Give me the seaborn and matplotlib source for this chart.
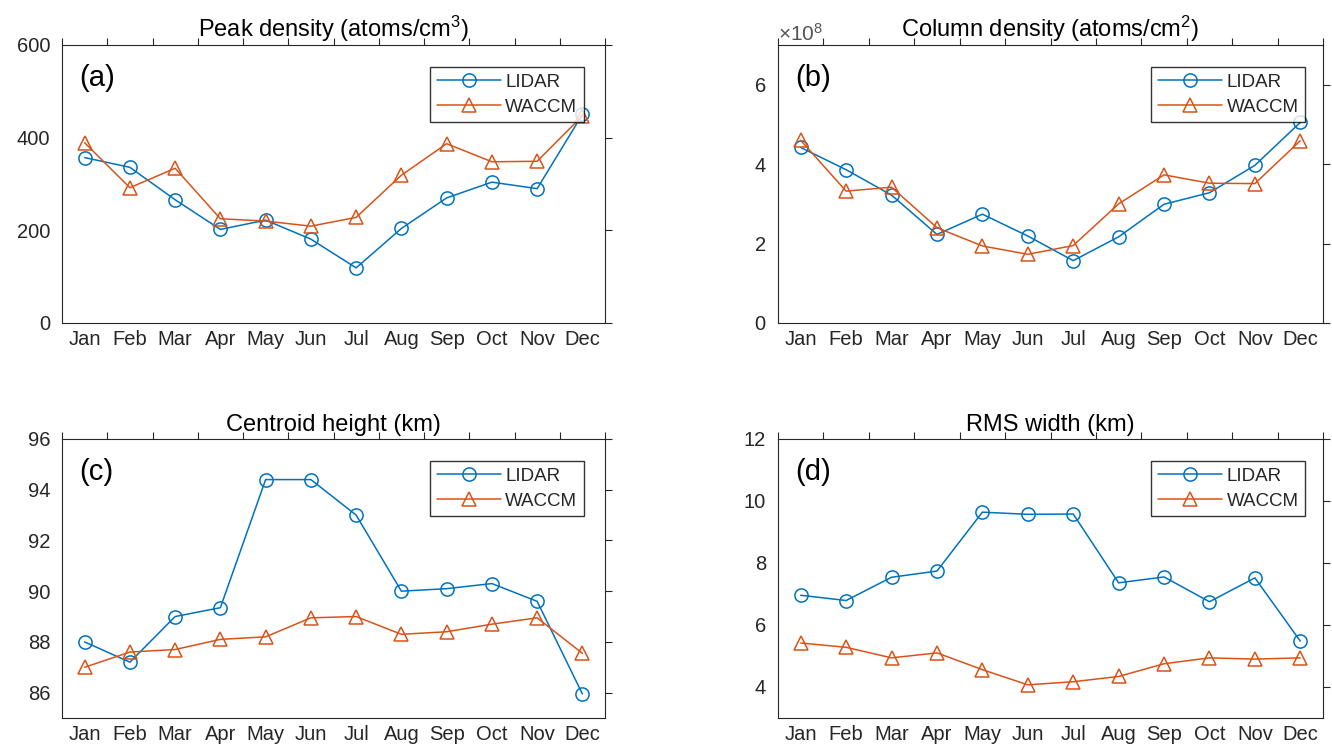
import numpy as np
import pandas as pd
import matplotlib
matplotlib.use("Agg")
import matplotlib.pyplot as plt
from matplotlib.ticker import ScalarFormatter, FixedLocator, NullFormatter, FixedFormatter
import seaborn as sns

months = ["Jan", "Feb", "Mar", "Apr", "May", "Jun", "Jul", "Aug", "Sep", "Oct", "Nov", "Dec"]

# Peak density (atoms/cm^3)
peak_lidar = [357, 336, 266, 202, 222, 181, 119, 204, 270, 304, 290, 450]
peak_waccm = [389, 292, 334, 225, 220, 209, 228, 319, 387, 348, 349, 447]

# Column density (atoms/cm^2)
col_lidar = [4.42e8, 3.86e8, 3.22e8, 2.23e8, 2.74e8, 2.19e8, 1.57e8, 2.17e8, 2.99e8, 3.28e8, 3.97e8, 5.05e8]
col_waccm = [4.60e8, 3.32e8, 3.42e8, 2.40e8, 1.94e8, 1.73e8, 1.95e8, 3.00e8, 3.73e8, 3.52e8, 3.51e8, 4.59e8]

# Centroid height (km)
cent_lidar = [88.0, 87.2, 89.0, 89.35, 94.4, 94.4, 93.0, 90.0, 90.1, 90.3, 89.6, 85.95]
cent_waccm = [87.0, 87.6, 87.7, 88.1, 88.2, 88.95, 89.0, 88.3, 88.4, 88.7, 88.95, 87.55]

# RMS width (km)
rms_lidar = [6.96, 6.79, 7.54, 7.74, 9.64, 9.57, 9.58, 7.36, 7.55, 6.75, 7.52, 5.48]
rms_waccm = [5.42, 5.28, 4.94, 5.10, 4.56, 4.07, 4.17, 4.34, 4.75, 4.94, 4.90, 4.94]

blue = "#0072BD"
orange = "#D95319"
ink = "#262626"

sns.set_style("white")
plt.rcParams["font.family"] = ["Liberation Sans", "DejaVu Sans"]
plt.rcParams["mathtext.fontset"] = "custom"
plt.rcParams["mathtext.rm"] = "Liberation Sans"
plt.rcParams["mathtext.it"] = "Liberation Sans:italic"

W, H = 1332, 746
fig = plt.figure(figsize=(W / 100, H / 100), dpi=100)

def frac(l, t, r, b):
    return [l / W, 1 - b / H, (r - l) / W, (b - t) / H]

panels = [
    dict(rect=frac(62, 45, 605, 323), title=r"Peak density (atoms/cm$^{3}$)", tag="(a)",
         lidar=peak_lidar, waccm=peak_waccm, ylim=(0, 600), yticks=[0, 200, 400, 600],
         sci=False, leg_x=0.961),
    dict(rect=frac(778, 45, 1323, 323), title=r"Column density (atoms/cm$^{2}$)", tag="(b)",
         lidar=col_lidar, waccm=col_waccm, ylim=(0, 7e8), yticks=[0, 2e8, 4e8, 6e8],
         sci=True, leg_x=0.967),
    dict(rect=frac(62, 439, 605, 718), title="Centroid height (km)", tag="(c)",
         lidar=cent_lidar, waccm=cent_waccm, ylim=(85, 96), yticks=[86, 88, 90, 92, 94, 96],
         sci=False, leg_x=0.961),
    dict(rect=frac(778, 439, 1323, 718), title="RMS width (km)", tag="(d)",
         lidar=rms_lidar, waccm=rms_waccm, ylim=(3, 12), yticks=[4, 6, 8, 10, 12],
         sci=False, leg_x=0.967),
]

xpos = np.arange(len(months)) + 0.5

for p in panels:
    ax = fig.add_axes(p["rect"])
    df = pd.DataFrame({"x": xpos, "LIDAR": p["lidar"], "WACCM": p["waccm"]})
    sns.lineplot(data=df, x="x", y="LIDAR", ax=ax, color=blue, marker="o", markersize=9.5,
                 markerfacecolor="none", markeredgecolor=blue, markeredgewidth=1.1,
                 linewidth=1.1, label="LIDAR")
    sns.lineplot(data=df, x="x", y="WACCM", ax=ax, color=orange, marker="^", markersize=10,
                 markerfacecolor="none", markeredgecolor=orange, markeredgewidth=1.1,
                 linewidth=1.1, label="WACCM")

    ax.set_xlim(0, 12)
    ax.set_ylim(*p["ylim"])
    ax.set_xlabel("")
    ax.set_ylabel("")

    # month boundaries as ticks, month names centred between them
    ax.xaxis.set_major_locator(FixedLocator(np.arange(0, 13)))
    ax.xaxis.set_major_formatter(NullFormatter())
    ax.xaxis.set_minor_locator(FixedLocator(xpos))
    ax.xaxis.set_minor_formatter(FixedFormatter(months))
    ax.tick_params(axis="x", which="minor", length=0, labelsize=14.5, labelcolor=ink, pad=5,
                   top=False, bottom=True)
    ax.tick_params(axis="both", which="major", direction="out", length=5, width=0.8,
                   color=ink, labelcolor=ink, labelsize=14.5, top=True, right=True)

    ax.set_yticks(p["yticks"])
    if p["sci"]:
        fmt = ScalarFormatter(useMathText=True)
        fmt.set_powerlimits((0, 0))
        ax.yaxis.set_major_formatter(fmt)
        off = ax.yaxis.get_offset_text()
        off.set_fontsize(15)
        off.set_color("#555555")

    for s in ax.spines.values():
        s.set_visible(True)
        s.set_color(ink)
        s.set_linewidth(0.8)

    ax.set_title(p["title"], fontsize=17, color="black", pad=6)
    ax.text(0.031, 0.882, p["tag"], transform=ax.transAxes, fontsize=21, color="black",
            ha="left", va="center")

    leg = ax.legend(loc="upper right", bbox_to_anchor=(p["leg_x"], 0.92), fontsize=13.5,
                    frameon=True, fancybox=False, handlelength=3.4, handletextpad=0.25,
                    borderpad=0.35, labelspacing=0.4, borderaxespad=0)
    leg.get_frame().set_edgecolor("black")
    leg.get_frame().set_linewidth(1.0)
    for t in leg.get_texts():
        t.set_color(ink)

fig.savefig("out.png", dpi=100, facecolor="white")
